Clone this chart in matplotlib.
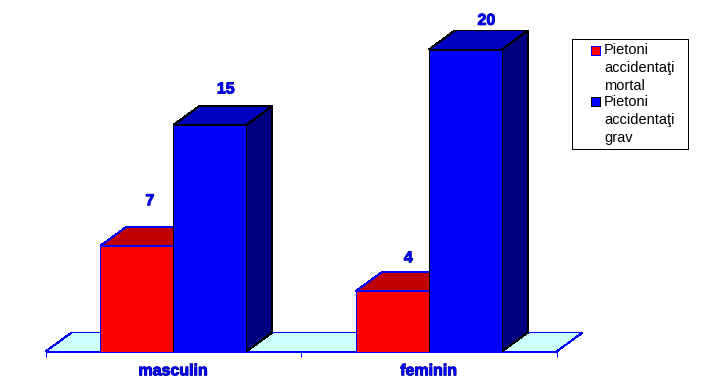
import matplotlib
matplotlib.use("Agg")
import matplotlib.pyplot as plt
from matplotlib.patches import Polygon, Rectangle
import matplotlib.patheffects as pe

plt.rcParams['font.family'] = ['Liberation Sans', 'DejaVu Sans']

categories = ["masculin", "feminin"]
mortal = [7, 4]
grav = [15, 20]
series_names = ["Pietoni\naccidentaţi\nmortal", "Pietoni\naccidentaţi\ngrav"]

W, H = 701, 392
LW = 0.72  # 1 px at dpi 100
bar_w = 73 / 255.5
depth_x = 26 / 255.5
depth_y = 19 / 15.1
# label placement, [mortal, grav] per category
label_dx = [[13, 16], [16, 21]]
label_gap = [[2.98, 2.39], [2.2, 1.93]]


def box3d(ax, x, h, face, top, side, edge, z):
    ax.bar(x, h, width=bar_w, align='edge', color=face, edgecolor=edge, linewidth=LW,
           antialiased=False, zorder=z + 0.2, clip_on=False)
    x2 = x + bar_w
    top_pts = [(x, h), (x + depth_x, h + depth_y), (x2 + depth_x, h + depth_y), (x2, h)]
    side_pts = [(x2, 0), (x2 + depth_x, depth_y), (x2 + depth_x, h + depth_y), (x2, h)]
    ax.add_patch(Polygon(top_pts, facecolor=top, edgecolor=edge, linewidth=LW,
                         antialiased=False, zorder=z, clip_on=False))
    ax.add_patch(Polygon(side_pts, facecolor=side, edgecolor=edge, linewidth=LW,
                         antialiased=False, zorder=z, clip_on=False))


def value_label(ax, x, y, v):
    ax.text(x, y, str(v), ha='center', va='center', fontsize=11.5, fontweight='bold',
            color='#0000ff', zorder=10, clip_on=False,
            path_effects=[pe.withStroke(linewidth=0.7, foreground='#000080')])


fig = plt.figure(figsize=(W / 100, H / 100), dpi=100)
ax = fig.add_axes([45.6 / W, 40.5 / H, 511 / W, 302 / H])
ax.set_xlim(0, 2)
ax.set_ylim(0, 20)
ax.patch.set_alpha(0)

# floor
n = len(categories)
ax.add_patch(Polygon([(0, 0), (depth_x, depth_y), (n + depth_x, depth_y), (n, 0)],
                     facecolor='#ccffff', edgecolor='#0000ff', linewidth=LW,
                     antialiased=False, zorder=1, clip_on=False))

for i in range(n):
    x0 = i + (1 - 2 * bar_w) / 2
    box3d(ax, x0, mortal[i], '#ff0000', '#c00000', '#800000', '#0000ff', 2 + i)
    box3d(ax, x0 + bar_w, grav[i], '#0000ff', '#0000c0', '#000080', '#000000', 2.5 + i)
    value_label(ax, x0 + bar_w / 2 + label_dx[i][0] / 255.5,
                mortal[i] + label_gap[i][0], mortal[i])
    value_label(ax, x0 + 1.5 * bar_w + label_dx[i][1] / 255.5,
                grav[i] + label_gap[i][1], grav[i])

for s in ['top', 'left', 'right']:
    ax.spines[s].set_visible(False)
ax.spines['bottom'].set_color('#0000ff')
ax.spines['bottom'].set_linewidth(LW)
ax.spines['bottom'].set_zorder(8)
ax.set_yticks([])
ax.set_xticks(range(n + 1))
ax.set_xticklabels([])
ax.tick_params(axis='x', which='major', length=3.5, width=LW, color='#0000ff')
ax.set_xticks([i + 0.5 for i in range(n)], minor=True)
ax.set_xticklabels(categories, minor=True, fontsize=11.5, fontweight='bold', color='#0000ff',
                   path_effects=[pe.withStroke(linewidth=0.7, foreground='#000080')])
ax.tick_params(axis='x', which='minor', length=0, pad=8.5)

# legend drawn by hand so the swatch sits on the first line
fig.add_artist(Rectangle((572 / W, 1 - 148.5 / H), 116 / W, 109 / H, transform=fig.transFigure,
                         facecolor='white', edgecolor='black', linewidth=LW, antialiased=False))
swatch_face = ['#ff0000', '#0000ff']
swatch_edge = ['#0000ff', '#000000']
swatch_top = [45.5, 96.5]
text_top = [43.5, 95]
for name, fc, ec, sy, ty in zip(series_names, swatch_face, swatch_edge, swatch_top, text_top):
    fig.add_artist(Rectangle((590.5 / W, 1 - (sy + 9) / H), 9 / W, 9 / H, transform=fig.transFigure,
                             facecolor=fc, edgecolor=ec, linewidth=LW, antialiased=False))
    fig.text(604 / W, 1 - ty / H, name, ha='left', va='top', fontsize=10.5, color='black',
             linespacing=1.36)

fig.savefig("out.png", dpi=100)
